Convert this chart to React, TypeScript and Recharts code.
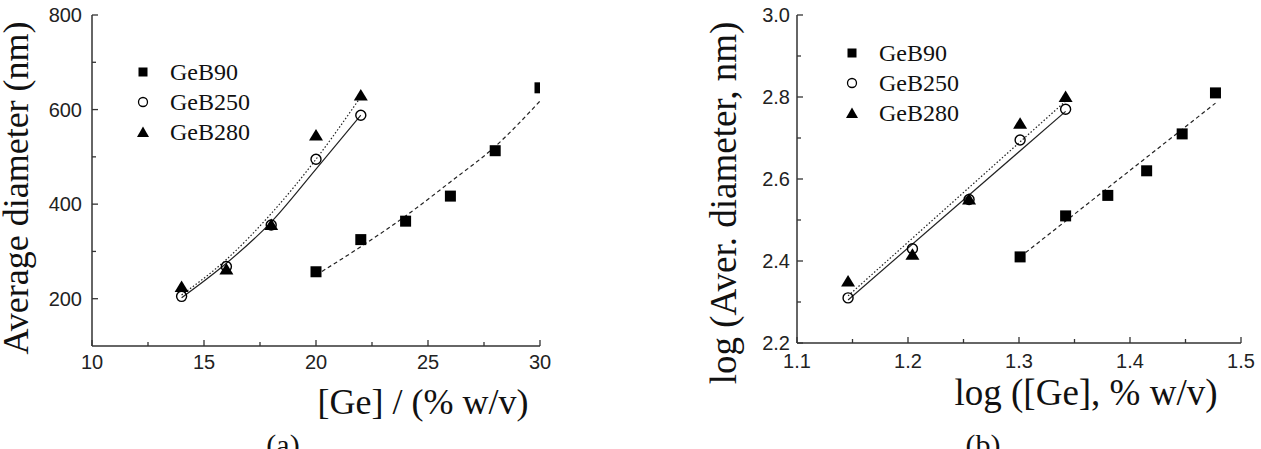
import React from 'react';
import { ComposedChart, Scatter, Line, XAxis, YAxis, Legend } from 'recharts';

// ---------- Panel (a): diameter vs [Ge] ----------
const concB90 = [20, 22, 24, 26, 28, 30];
const diamB90 = [257, 325, 364, 417, 513, 646];
const concB250 = [14, 16, 18, 20, 22];
const diamB250 = [205, 268, 356, 495, 588];
const concB280 = [14, 16, 18, 20, 22];
const diamB280 = [225, 262, 356, 545, 630];

// fitted curves
const fitConcB90 = [20, 22, 24, 26, 28, 30];
const fitDiamB90 = [250, 310, 375, 447, 522, 618];
const fitConcB250 = [14, 16, 18, 20, 22];
const fitDiamB250 = [202, 275, 362, 474, 588];
const fitConcB280 = [14, 16, 18, 20, 22];
const fitDiamB280 = [208, 283, 380, 495, 627];

const xMajorA = [10, 15, 20, 25, 30];
const xMinorA = [12.5, 17.5, 22.5, 27.5];
const yMajorA = [200, 400, 600, 800];
const yMinorA = [300, 500, 700];

// ---------- Panel (b): log-log ----------
const logConcB90 = [1.301, 1.342, 1.38, 1.415, 1.447, 1.477];
const logDiamB90 = [2.41, 2.51, 2.56, 2.62, 2.71, 2.81];
const logConcB250 = [1.146, 1.204, 1.255, 1.301, 1.342];
const logDiamB250 = [2.31, 2.43, 2.55, 2.695, 2.77];
const logConcB280 = [1.146, 1.204, 1.255, 1.301, 1.342];
const logDiamB280 = [2.35, 2.415, 2.55, 2.735, 2.8];

const fitLogConcB90 = [1.301, 1.477];
const fitLogDiamB90 = [2.41, 2.785];
const fitLogConcB250 = [1.146, 1.342];
const fitLogDiamB250 = [2.305, 2.765];
const fitLogConcB280 = [1.146, 1.342];
const fitLogDiamB280 = [2.315, 2.79];

const xMajorB = [1.1, 1.2, 1.3, 1.4, 1.5];
const xMinorB = [1.15, 1.25, 1.35, 1.45];
const yMajorB = [2.2, 2.4, 2.6, 2.8, 3.0];
const yMinorB = [2.3, 2.5, 2.7, 2.9];

const seriesNames = ['GeB90', 'GeB250', 'GeB280'];

const zip = (xs: number[], ys: number[]) => xs.map((x, i) => ({ x, y: ys[i] }));

const AXIS = '#333';
const TICK_FONT = '"Liberation Sans", Arial, sans-serif';
const TICK_SIZE = 20;
const SERIF = '"Liberation Serif", "Times New Roman", serif';
const isMajor = (majors: number[], v: number) => majors.some((m) => Math.abs(m - v) < 1e-9);

const bottomTick = (majors: number[], margin: number, fmt: (v: number) => string) => (p: any) => {
  const { x, y, payload } = p;
  const v = payload.value;
  const maj = isMajor(majors, v);
  const ay = y - margin;
  return (
    <g>
      <line x1={x} x2={x} y1={ay} y2={ay - (maj ? 6 : 4)} stroke={AXIS} strokeWidth={1.3} />
      {maj && (
        <text x={x} y={y} dy="0.72em" textAnchor="middle" fontFamily={TICK_FONT} fontSize={TICK_SIZE} fill="#222">
          {fmt(v)}
        </text>
      )}
    </g>
  );
};

const leftTick = (majors: number[], margin: number, fmt: (v: number) => string) => (p: any) => {
  const { x, y, payload } = p;
  const v = payload.value;
  const maj = isMajor(majors, v);
  const ax = x + margin;
  return (
    <g>
      <line x1={ax} x2={ax + (maj ? 6 : 4)} y1={y} y2={y} stroke={AXIS} strokeWidth={1.3} />
      {maj && (
        <text x={x} y={y} dy="0.36em" textAnchor="end" fontFamily={TICK_FONT} fontSize={TICK_SIZE} fill="#222">
          {fmt(v)}
        </text>
      )}
    </g>
  );
};

const topTick = (majors: number[]) => (p: any) => {
  const { x, y, payload } = p;
  const maj = isMajor(majors, payload.value);
  return <line x1={x} x2={x} y1={y} y2={y + (maj ? 6 : 4)} stroke={AXIS} strokeWidth={1.3} />;
};

const rightTick = (majors: number[]) => (p: any) => {
  const { x, y, payload } = p;
  const maj = isMajor(majors, payload.value);
  return <line x1={x} x2={x - (maj ? 6 : 4)} y1={y} y2={y} stroke={AXIS} strokeWidth={1.3} />;
};

const SquareDot = (p: any) => <rect x={p.cx - 5.5} y={p.cy - 5.5} width={11} height={11} fill="#000" />;
const CircleDot = (p: any) => <circle cx={p.cx} cy={p.cy} r={5} fill="none" stroke="#000" strokeWidth={1.4} />;
const TriDot = (p: any) => (
  <polygon points={`${p.cx},${p.cy - 6.5} ${p.cx - 7},${p.cy + 5} ${p.cx + 7},${p.cy + 5}`} fill="#000" />
);

const LegendBox = () => (
  <svg width={150} height={92} style={{ display: 'block', overflow: 'visible' }}>
    <rect x={8.5} y={10.5} width={9} height={9} fill="#000" />
    <circle cx={13} cy={45} r={4.5} fill="none" stroke="#000" strokeWidth={1.3} />
    <polygon points="13,69.5 7,80 19,80" fill="#000" />
    {seriesNames.map((n, i) => (
      <text key={n} x={40} y={15 + i * 30} dy="0.35em" fontFamily={SERIF} fontSize={24} fill="#111">
        {n}
      </text>
    ))}
  </svg>
);

const fmtInt = (v: number) => String(v);
const fmt1 = (v: number) => v.toFixed(1);

const PanelA = () => (
  <ComposedChart width={600} height={449} margin={{ top: 15, right: 60, bottom: 73, left: 52 }}>
    <XAxis
      xAxisId="b"
      dataKey="x"
      type="number"
      domain={[10, 30]}
      allowDataOverflow
      ticks={[...xMajorA, ...xMinorA].sort((a, b) => a - b)}
      interval={0}
      height={30}
      tickSize={0}
      tickMargin={9}
      tickLine={false}
      axisLine={{ stroke: AXIS, strokeWidth: 1.5 }}
      tick={bottomTick(xMajorA, 9, fmtInt)}
    />
    <XAxis
      xAxisId="t"
      orientation="top"
      dataKey="x"
      type="number"
      domain={[10, 30]}
      allowDataOverflow
      ticks={[...xMajorA, ...xMinorA]}
      interval={0}
      height={0}
      tickSize={0}
      tickMargin={0}
      tickLine={false}
      axisLine={{ stroke: AXIS, strokeWidth: 1.5 }}
      tick={topTick(xMajorA)}
    />
    <YAxis
      yAxisId="l"
      dataKey="y"
      type="number"
      domain={[100, 800]}
      allowDataOverflow
      ticks={[...yMajorA, ...yMinorA].sort((a, b) => a - b)}
      interval={0}
      width={40}
      tickSize={0}
      tickMargin={10}
      tickLine={false}
      axisLine={{ stroke: AXIS, strokeWidth: 1.5 }}
      tick={leftTick(yMajorA, 10, fmtInt)}
    />
    <YAxis
      yAxisId="r"
      orientation="right"
      type="number"
      domain={[100, 800]}
      allowDataOverflow
      ticks={[...yMajorA, ...yMinorA]}
      interval={0}
      width={0}
      tickSize={0}
      tickMargin={0}
      tickLine={false}
      axisLine={{ stroke: AXIS, strokeWidth: 1.5 }}
      tick={rightTick(yMajorA)}
    />
    <Line xAxisId="t" yAxisId="r" data={zip(fitConcB90, fitDiamB90)} dataKey="y" type="monotone" stroke="#222" strokeWidth={1.2} strokeDasharray="4 3" dot={false} isAnimationActive={false} legendType="none" />
    <Line xAxisId="t" yAxisId="r" data={zip(fitConcB250, fitDiamB250)} dataKey="y" type="monotone" stroke="#222" strokeWidth={1.2} dot={false} isAnimationActive={false} legendType="none" />
    <Line xAxisId="t" yAxisId="r" data={zip(fitConcB280, fitDiamB280)} dataKey="y" type="monotone" stroke="#222" strokeWidth={1.2} strokeDasharray="1.5 2" dot={false} isAnimationActive={false} legendType="none" />
    <Scatter xAxisId="b" yAxisId="l" name={seriesNames[0]} data={zip(concB90, diamB90)} shape={SquareDot} isAnimationActive={false} />
    <Scatter xAxisId="b" yAxisId="l" name={seriesNames[1]} data={zip(concB250, diamB250)} shape={CircleDot} isAnimationActive={false} />
    <Scatter xAxisId="b" yAxisId="l" name={seriesNames[2]} data={zip(concB280, diamB280)} shape={TriDot} isAnimationActive={false} />
    <Legend
      layout="vertical"
      align="center"
      verticalAlign="middle"
      content={() => <LegendBox />}
      wrapperStyle={{ position: 'absolute', left: 130, top: 57, width: 150, height: 92 }}
    />
  </ComposedChart>
);

const PanelB = () => (
  <ComposedChart width={621} height={449} margin={{ top: 15, right: 20, bottom: 76, left: 117 }}>
    <XAxis
      xAxisId="b"
      dataKey="x"
      type="number"
      domain={[1.1, 1.5]}
      allowDataOverflow
      ticks={[...xMajorB, ...xMinorB].sort((a, b) => a - b)}
      interval={0}
      height={30}
      tickSize={0}
      tickMargin={11}
      tickLine={false}
      axisLine={{ stroke: AXIS, strokeWidth: 1.5 }}
      tick={bottomTick(xMajorB, 11, fmt1)}
    />
    <XAxis
      xAxisId="t"
      orientation="top"
      dataKey="x"
      type="number"
      domain={[1.1, 1.5]}
      allowDataOverflow
      ticks={[...xMajorB, ...xMinorB]}
      interval={0}
      height={0}
      tickSize={0}
      tickMargin={0}
      tickLine={false}
      axisLine={{ stroke: AXIS, strokeWidth: 1.5 }}
      tick={topTick(xMajorB)}
    />
    <YAxis
      yAxisId="l"
      dataKey="y"
      type="number"
      domain={[2.2, 3.0]}
      allowDataOverflow
      ticks={[...yMajorB, ...yMinorB].sort((a, b) => a - b)}
      interval={0}
      width={40}
      tickSize={0}
      tickMargin={7}
      tickLine={false}
      axisLine={{ stroke: AXIS, strokeWidth: 1.5 }}
      tick={leftTick(yMajorB, 7, fmt1)}
    />
    <YAxis
      yAxisId="r"
      orientation="right"
      type="number"
      domain={[2.2, 3.0]}
      allowDataOverflow
      ticks={[...yMajorB, ...yMinorB]}
      interval={0}
      width={0}
      tickSize={0}
      tickMargin={0}
      tickLine={false}
      axisLine={{ stroke: AXIS, strokeWidth: 1.5 }}
      tick={rightTick(yMajorB)}
    />
    <Line xAxisId="t" yAxisId="r" data={zip(fitLogConcB90, fitLogDiamB90)} dataKey="y" type="linear" stroke="#222" strokeWidth={1.2} strokeDasharray="4 3" dot={false} isAnimationActive={false} legendType="none" />
    <Line xAxisId="t" yAxisId="r" data={zip(fitLogConcB250, fitLogDiamB250)} dataKey="y" type="linear" stroke="#222" strokeWidth={1.2} dot={false} isAnimationActive={false} legendType="none" />
    <Line xAxisId="t" yAxisId="r" data={zip(fitLogConcB280, fitLogDiamB280)} dataKey="y" type="linear" stroke="#222" strokeWidth={1.2} strokeDasharray="1.5 2" dot={false} isAnimationActive={false} legendType="none" />
    <Scatter xAxisId="b" yAxisId="l" name={seriesNames[0]} data={zip(logConcB90, logDiamB90)} shape={SquareDot} isAnimationActive={false} />
    <Scatter xAxisId="b" yAxisId="l" name={seriesNames[1]} data={zip(logConcB250, logDiamB250)} shape={CircleDot} isAnimationActive={false} />
    <Scatter xAxisId="b" yAxisId="l" name={seriesNames[2]} data={zip(logConcB280, logDiamB280)} shape={TriDot} isAnimationActive={false} />
    <Legend
      layout="vertical"
      align="center"
      verticalAlign="middle"
      content={() => <LegendBox />}
      wrapperStyle={{ position: 'absolute', left: 199, top: 38, width: 150, height: 92 }}
    />
  </ComposedChart>
);

export default function App() {
  return (
    <div style={{ position: 'absolute', left: 0, top: 0, width: 1261, height: 449, overflow: 'hidden', background: '#fff' }}>
      <div style={{ position: 'absolute', left: 0, top: 0 }}>
        <PanelA />
      </div>
      <div style={{ position: 'absolute', left: 640, top: 0 }}>
        <PanelB />
      </div>
      <svg width={1261} height={449} style={{ position: 'absolute', left: 0, top: 0, pointerEvents: 'none' }}>
        <text x={28} y={188} transform="rotate(-90 28 188)" textAnchor="middle" fontFamily={SERIF} fontSize={36} fill="#111">
          Average diameter (nm)
        </text>
        <text x={423} y={414} textAnchor="middle" fontFamily={SERIF} fontSize={36} fill="#111">
          [Ge] / (% w/v)
        </text>
        <text x={736} y={203} transform="rotate(-90 736 203)" textAnchor="middle" fontFamily={SERIF} fontSize={37} fill="#111">
          log (Aver. diameter, nm)
        </text>
        <text x={1086} y={405} textAnchor="middle" fontFamily={SERIF} fontSize={37} fill="#111">
          log ([Ge], % w/v)
        </text>
        <text x={283} y={455} textAnchor="middle" fontFamily={SERIF} fontSize={30} fill="#111">
          (a)
        </text>
        <text x={983} y={455} textAnchor="middle" fontFamily={SERIF} fontSize={30} fill="#111">
          (b)
        </text>
      </svg>
    </div>
  );
}
